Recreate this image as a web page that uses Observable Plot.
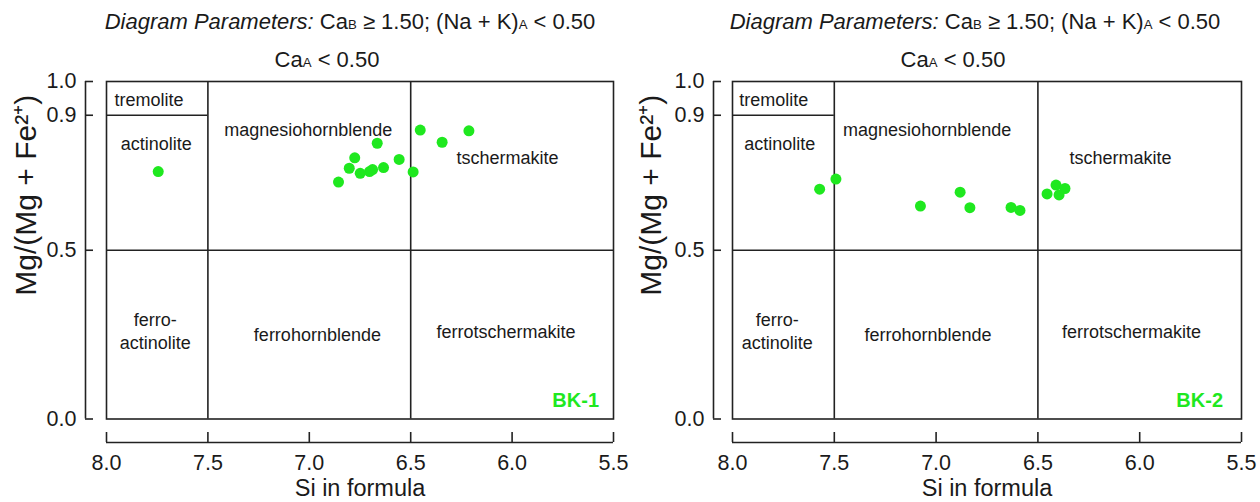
<!DOCTYPE html>
<html>
<head>
<meta charset="utf-8">
<script src="https://cdn.jsdelivr.net/npm/d3@7"></script>
<script src="https://cdn.jsdelivr.net/npm/@observablehq/plot@0.6"></script>
<style>
  html, body { margin: 0; padding: 0; background: #fff; }
  #wrap { position: relative; width: 1260px; height: 502px; font-family: "Liberation Sans", Arial, sans-serif; color: #1a1a1a; overflow: hidden; }
  .panel { position: absolute; top: 0; }
  .title { position: absolute; width: 640px; text-align: center; white-space: nowrap; font-size: 22px; line-height: 26px; }
  .sub { font-size: 0.6em; }
</style>
</head>
<body>
<div id="wrap">
  <div id="p1" class="panel" style="left:0px"></div>
  <div id="p2" class="panel" style="left:630px"></div>
  <div class="title" style="left:30px;top:9px"><i>Diagram Parameters:</i> Ca<span class="sub">B</span> ≥ 1.50; (Na + K)<span class="sub">A</span> &lt; 0.50</div>
  <div class="title" style="left:7px;top:47px">Ca<span class="sub">A</span> &lt; 0.50</div>
  <div class="title" style="left:655px;top:9px"><i>Diagram Parameters:</i> Ca<span class="sub">B</span> ≥ 1.50; (Na + K)<span class="sub">A</span> &lt; 0.50</div>
  <div class="title" style="left:633px;top:47px">Ca<span class="sub">A</span> &lt; 0.50</div>
</div>
<script>
// ---- axis ticks ----
const siTicks = [8.0, 7.5, 7.0, 6.5, 6.0, 5.5];
const mgTicks = [0.0, 0.5, 0.9, 1.0];

// ---- classification boundaries ----
const siDividers = [7.5, 6.5];
const mgDividers = [0.5];
const tremoliteSi = [8.0, 7.5];
const tremoliteMg = [0.9];

// ---- field names and their anchor points (data units) ----
const fieldNames = ["tremolite", "actinolite", "magnesiohornblende", "tschermakite",
                    "ferro-\nactinolite", "ferrohornblende", "ferrotschermakite"];
const fieldSi1 = [7.79, 7.755, 7.005, 6.023, 7.76, 6.96, 6.03];
const fieldMg1 = [0.949, 0.82, 0.859, 0.776, 0.262, 0.253, 0.262];
const fieldSi2 = [7.797, 7.768, 7.044, 6.094, 7.78, 7.04, 6.04];
const fieldMg2 = [0.949, 0.82, 0.859, 0.776, 0.262, 0.253, 0.262];

// ---- samples ----
const sampleNames = ["BK-1", "BK-2"];
const bk1Si = [7.745, 6.453, 6.213, 6.345, 6.665, 6.776, 6.557, 6.803, 6.634, 6.688, 6.703, 6.749, 6.488, 6.856];
const bk1Mg = [0.733, 0.856, 0.854, 0.820, 0.817, 0.774, 0.769, 0.743, 0.745, 0.739, 0.733, 0.728, 0.732, 0.702];
const bk2Si = [7.572, 7.492, 7.077, 6.882, 6.834, 6.632, 6.588, 6.455, 6.411, 6.367, 6.396];
const bk2Mg = [0.681, 0.711, 0.631, 0.672, 0.626, 0.627, 0.618, 0.667, 0.693, 0.683, 0.664];

// ---- axis titles ----
const xTitle = "Si in formula";
const yTitle = "Mg/(Mg + Fe²⁺)";

const GREEN = "#1fe81f";
const INK = "#222";

function panel(opts) {
  const pts = opts.si.map((s, i) => ({si: s, mg: opts.mg[i]}));
  const fields = fieldNames.map((n, i) => ({name: n, si: opts.fieldSi[i], mg: opts.fieldMg[i]}));
  const split = tremoliteMg.map(m => ({mg: m, si1: tremoliteSi[0], si2: tremoliteSi[1]}));
  return Plot.plot({
    width: 630,
    height: 502,
    marginTop: 81,
    marginBottom: 83.5,
    marginLeft: opts.marginLeft,
    marginRight: opts.marginRight,
    style: {background: "transparent", overflow: "visible", fontFamily: "'Liberation Sans', Arial, sans-serif", color: "#1a1a1a"},
    x: {domain: [8.0, 5.5], label: null},
    y: {domain: [0, 1], label: null},
    marks: [
      Plot.frame({stroke: INK, strokeWidth: 1.6}),
      Plot.ruleX(siDividers, {stroke: INK, strokeWidth: 1.6}),
      Plot.ruleY(mgDividers, {stroke: INK, strokeWidth: 1.6}),
      Plot.ruleY(split, {y: "mg", x1: "si1", x2: "si2", stroke: INK, strokeWidth: 1.6}),
      Plot.text(fields, {x: "si", y: "mg", text: "name", fontSize: 18, lineHeight: 1.28, fill: "#1a1a1a"}),
      Plot.dot(pts, {x: "si", y: "mg", r: 5.5, fill: GREEN, stroke: null}),
      Plot.text([opts.sample], {frameAnchor: "bottom-right", textAnchor: "end", lineAnchor: "middle", dx: opts.sampleDx, dy: -18.5, fontSize: 20, fontWeight: "bold", fill: GREEN}),
      // x axis (offset below the box)
      Plot.ruleY([0], {dy: 23.5, stroke: INK, strokeWidth: 1.6}),
      Plot.axisX({ticks: siTicks, tickFormat: ".1f", tickSize: 10, dy: 13.5, tickPadding: 12, fontSize: 21.5, stroke: INK, strokeWidth: 1.6, label: null}),
      // y axis (offset left of the box)
      Plot.ruleX([8.0], {dx: -opts.yOffset, stroke: INK, strokeWidth: 1.6}),
      Plot.axisY({ticks: mgTicks, tickFormat: ".1f", tickSize: 8, dx: -(opts.yOffset - 8), tickPadding: 9, fontSize: 21.5, stroke: INK, strokeWidth: 1.6, label: null}),
      // axis titles
      Plot.text([xTitle], {frameAnchor: "bottom", lineAnchor: "middle", dy: 69.5, fontSize: 23.5}),
      Plot.text([yTitle], {frameAnchor: "left", rotate: -90, textAnchor: "middle", lineAnchor: "middle", dx: opts.yTitleDx, dy: -55, fontSize: 30})
    ]
  });
}

document.getElementById("p1").appendChild(panel({
  si: bk1Si, mg: bk1Mg, sample: sampleNames[0], fieldSi: fieldSi1, fieldMg: fieldMg1,
  marginLeft: 106, marginRight: 17, yOffset: 21, sampleDx: -14.5, yTitleDx: -80
}));
document.getElementById("p2").appendChild(panel({
  si: bk2Si, mg: bk2Mg, sample: sampleNames[1], fieldSi: fieldSi2, fieldMg: fieldMg2,
  marginLeft: 102, marginRight: 19, yOffset: 19, sampleDx: -18.5, yTitleDx: -81
}));
</script>
</body>
</html>
